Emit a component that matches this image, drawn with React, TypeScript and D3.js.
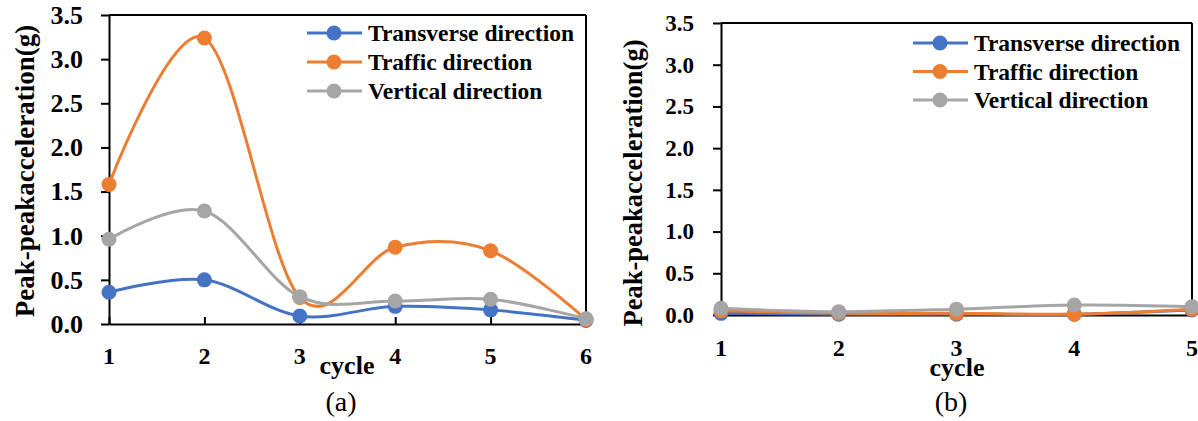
import React, { useEffect, useRef } from 'react';
import * as d3 from 'd3';

// values
const categoriesA = [1, 2, 3, 4, 5, 6];
const transverseA = [0.36, 0.5, 0.09, 0.2, 0.16, 0.04];
const trafficA = [1.58, 3.24, 0.3, 0.87, 0.83, 0.05];
const verticalA = [0.96, 1.28, 0.31, 0.26, 0.28, 0.06];

const categoriesB = [1, 2, 3, 4, 5];
const transverseB = [0.02, 0.01, 0.01, 0.01, 0.06];
const trafficB = [0.05, 0.02, 0.02, 0.01, 0.07];
const verticalB = [0.08, 0.04, 0.07, 0.12, 0.1];

const yTicks = [0, 0.5, 1, 1.5, 2, 2.5, 3, 3.5];
const seriesNames = ['Transverse direction', 'Traffic direction', 'Vertical direction'];
const seriesColors = ['#4472C4', '#ED7D31', '#A5A5A5'];

const FONT = '"Liberation Serif", "Times New Roman", serif';

function drawPanel(svg, cfg) {
  const x = d3.scaleLinear().domain(d3.extent(cfg.categories)).range([cfg.left, cfg.right]);
  const y = d3.scaleLinear().domain([0, 3.5]).range([cfg.bottom, cfg.top]);
  const g = svg.append('g');

  // y axis, ticks outside
  const ya = g.append('g')
    .attr('transform', `translate(${cfg.left},0)`)
    .call(d3.axisLeft(y).tickValues(yTicks).tickFormat(d3.format('.1f')).tickSize(8).tickSizeOuter(0).tickPadding(cfg.yPad));
  ya.selectAll('text')
    .attr('font-family', FONT).attr('font-weight', 'bold').attr('font-size', cfg.yFont).attr('fill', '#000');

  // x axis, ticks inside; labels placed by hand below
  const xa = g.append('g')
    .attr('transform', `translate(0,${cfg.bottom})`)
    .call(d3.axisBottom(x).tickValues(cfg.categories).tickFormat(() => '').tickSize(-7).tickSizeOuter(0));
  xa.selectAll('text').remove();
  g.selectAll(null).data(cfg.categories).enter().append('text')
    .attr('x', d => x(d))
    .attr('y', cfg.bottom + cfg.xBase)
    .attr('text-anchor', 'middle')
    .attr('font-family', FONT).attr('font-weight', 'bold').attr('font-size', cfg.xFont).attr('fill', '#000')
    .text(d => String(d));

  [ya, xa].forEach(a => {
    a.selectAll('line').attr('stroke', '#000').attr('stroke-width', 2);
    a.select('.domain').attr('stroke', '#000').attr('stroke-width', 2);
  });

  // box border top / right
  g.append('line').attr('x1', cfg.left).attr('x2', cfg.right).attr('y1', cfg.top).attr('y2', cfg.top)
    .attr('stroke', '#000').attr('stroke-width', 2);
  g.append('line').attr('x1', cfg.right).attr('x2', cfg.right).attr('y1', cfg.top).attr('y2', cfg.bottom)
    .attr('stroke', '#000').attr('stroke-width', 2);

  // series
  const line = d3.line()
    .x((d, i) => x(cfg.categories[i]))
    .y(d => y(d))
    .curve(d3.curveCardinal.tension(0));

  cfg.series.forEach((vals, s) => {
    g.append('path').attr('d', line(vals)).attr('fill', 'none')
      .attr('stroke', seriesColors[s]).attr('stroke-width', 3);
    g.selectAll(null).data(vals).enter().append('circle')
      .attr('cx', (d, i) => x(cfg.categories[i]))
      .attr('cy', d => y(d))
      .attr('r', 7.5)
      .attr('fill', seriesColors[s]);
  });

  // legend
  seriesNames.forEach((name, s) => {
    const ry = cfg.legY + s * cfg.legStep;
    g.append('line').attr('x1', cfg.legX).attr('x2', cfg.legX + 55).attr('y1', ry).attr('y2', ry)
      .attr('stroke', seriesColors[s]).attr('stroke-width', 3);
    g.append('circle').attr('cx', cfg.legX + 27).attr('cy', ry).attr('r', 7.5).attr('fill', seriesColors[s]);
    g.append('text').attr('x', cfg.legX + 61).attr('y', ry + 8)
      .attr('font-family', FONT).attr('font-weight', 'bold').attr('font-size', 23.5)
      .text(name);
  });

  // axis titles
  g.append('text')
    .attr('transform', `translate(${cfg.yTitleX},${cfg.yTitleY}) rotate(-90)`)
    .attr('text-anchor', 'middle').attr('dominant-baseline', 'central')
    .attr('font-family', FONT).attr('font-weight', 'bold').attr('font-size', cfg.yTitleFont)
    .text('Peak-peakacceleration(g)');
  g.append('text').attr('x', cfg.cycleX).attr('y', cfg.cycleY).attr('text-anchor', 'middle')
    .attr('font-family', FONT).attr('font-weight', 'bold').attr('font-size', 26).text('cycle');
  g.append('text').attr('x', cfg.capX).attr('y', 411).attr('text-anchor', 'middle')
    .attr('font-family', FONT).attr('font-size', 28).text(cfg.caption);
}

export default function App() {
  const ref = useRef(null);

  useEffect(() => {
    const svg = d3.select(ref.current);
    svg.selectAll('*').remove();

    drawPanel(svg, {
      categories: categoriesA,
      series: [transverseA, trafficA, verticalA],
      left: 109, right: 586, top: 15, bottom: 324,
      yPad: 18, yFont: 26, xBase: 40, xFont: 24,
      legX: 307, legY: 33, legStep: 29,
      yTitleX: 25, yTitleY: 171, yTitleFont: 27,
      cycleX: 347, cycleY: 374, capX: 341, caption: '(a)',
    });

    drawPanel(svg, {
      categories: categoriesB,
      series: [transverseB, trafficB, verticalB],
      left: 721, right: 1192, top: 23, bottom: 315,
      yPad: 19, yFont: 23, xBase: 41, xFont: 24,
      legX: 913, legY: 43, legStep: 28.5,
      yTitleX: 633, yTitleY: 183, yTitleFont: 26.5,
      cycleX: 957, cycleY: 376, capX: 951, caption: '(b)',
    });
  }, []);

  return (
    <svg ref={ref} width={1198} height={421}
      style={{ position: 'absolute', left: 0, top: 0, background: '#fff' }} />
  );
}
